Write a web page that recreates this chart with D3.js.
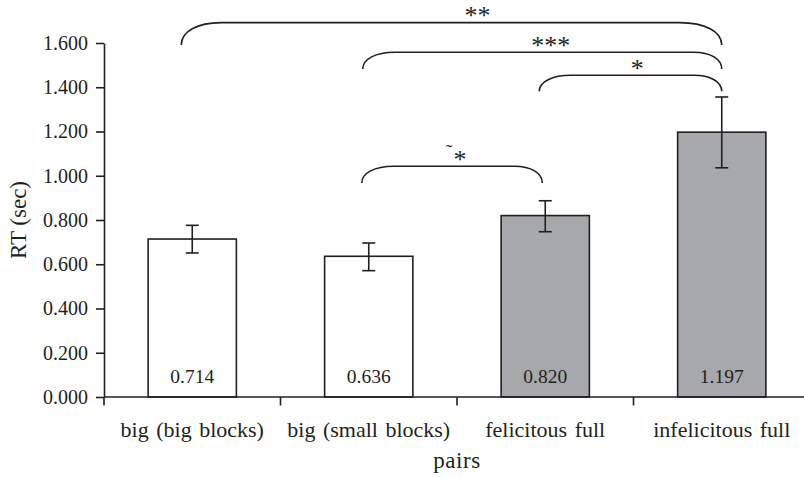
<!DOCTYPE html>
<html>
<head>
<meta charset="utf-8">
<script src="https://cdn.jsdelivr.net/npm/d3@7"></script>
<style>
  html, body { margin: 0; padding: 0; background: #fff; }
  svg { display: block; }
  svg text { font-family: 'Liberation Serif', serif; }
</style>
</head>
<body>
<svg id="chart" width="804" height="477"></svg>
<script>
// ---- data ----
const categories = ["big (big blocks)", "big (small blocks)", "felicitous full", "infelicitous full"];
const means = [0.714, 0.636, 0.820, 1.197];
const errUpper = [0.776, 0.696, 0.887, 1.356];
const errLower = [0.651, 0.571, 0.747, 1.036];
const barGroups = ["white", "white", "grey", "grey"];
const yTicks = [0, 0.2, 0.4, 0.6, 0.8, 1.0, 1.2, 1.4, 1.6];
// significance brackets: from/to category index, top level and end level (RT units)
const bracketFrom = [0, 1, 2, 1];
const bracketTo = [3, 3, 3, 2];
const bracketTop = [1.692, 1.558, 1.454, 1.043];
const bracketEnd = [1.591, 1.482, 1.382, 0.967];
const bracketLabels = ["**", "***", "*", "~*"];

// ---- layout ----
const svg = d3.select("#chart");
const mLeft = 104, mRight = 810, mTop = 43, mBottom = 397;
const ink = "#231f20";
const serif = "'Liberation Serif', serif";

const x = d3.scaleBand().domain(categories).range([mLeft, mRight]).paddingInner(0.5).paddingOuter(0.25);
const y = d3.scaleLinear().domain([0, 1.6]).range([mBottom, mTop]);
const fills = { white: "#ffffff", grey: "#a7a8ab" };
const cx = c => x(c) + x.bandwidth() / 2;

// bars
svg.append("g").selectAll("rect").data(categories).join("rect")
  .attr("x", d => x(d))
  .attr("y", (d, i) => y(means[i]))
  .attr("width", x.bandwidth())
  .attr("height", (d, i) => y(0) - y(means[i]))
  .attr("fill", (d, i) => fills[barGroups[i]])
  .attr("stroke", ink).attr("stroke-width", 1.6);

// value labels
svg.append("g").selectAll("text").data(categories).join("text")
  .attr("x", d => cx(d))
  .attr("y", 383)
  .attr("text-anchor", "middle")
  .style("font-family", serif).style("font-size", "19.5px")
  .attr("fill", ink)
  .text((d, i) => d3.format(".3f")(means[i]));

// error bars
const eb = svg.append("g").attr("stroke", ink).attr("stroke-width", 1.6);
categories.forEach((c, i) => {
  const px = cx(c);
  eb.append("line").attr("x1", px).attr("x2", px).attr("y1", y(errUpper[i])).attr("y2", y(errLower[i]));
  eb.append("line").attr("x1", px - 6.5).attr("x2", px + 6.5).attr("y1", y(errUpper[i])).attr("y2", y(errUpper[i]));
  eb.append("line").attr("x1", px - 6.5).attr("x2", px + 6.5).attr("y1", y(errLower[i])).attr("y2", y(errLower[i]));
});

// y axis
const yAxis = d3.axisLeft(y).tickValues(yTicks).tickFormat(d3.format(".3f")).tickSize(8).tickSizeOuter(0).tickPadding(8);
const gy = svg.append("g").attr("transform", `translate(${mLeft},0)`).call(yAxis);
gy.select(".domain").attr("stroke", ink).attr("stroke-width", 1.6);
gy.selectAll(".tick line").attr("stroke", ink).attr("stroke-width", 1.6);
gy.selectAll(".tick text").style("font-family", serif).style("font-size", "20px").attr("fill", ink);

// x axis line + boundary ticks
const gx = svg.append("g").attr("stroke", ink).attr("stroke-width", 1.6);
gx.append("line").attr("x1", mLeft).attr("x2", mRight).attr("y1", mBottom).attr("y2", mBottom);
d3.range(categories.length + 1).forEach(k => {
  const tx = mLeft + k * x.step();
  gx.append("line").attr("x1", tx).attr("x2", tx).attr("y1", mBottom).attr("y2", mBottom + 8.5);
});

// category labels
svg.append("g").selectAll("text").data(categories).join("text")
  .attr("x", d => cx(d))
  .attr("y", 437)
  .attr("text-anchor", "middle")
  .style("font-family", serif).style("font-size", "22px").style("word-spacing", "2px")
  .attr("fill", ink)
  .text(d => d);

// axis titles
svg.append("text").attr("x", 457).attr("y", 468).attr("text-anchor", "middle")
  .style("font-family", serif).style("font-size", "23px").style("letter-spacing", "0.6px")
  .attr("fill", ink).text("pairs");
svg.append("text").attr("transform", "translate(26,220) rotate(-90)").attr("text-anchor", "middle")
  .style("font-family", serif).style("font-size", "23px").attr("fill", ink).text("RT (sec)");

// brackets
const startShift = [-11, -6, -6, -7];
const endShift = [0, 0, 0, -3];
const labelShift = [26, 8.5, 6.7, 8];
const bg = svg.append("g");
bracketLabels.forEach((lab, i) => {
  const x1 = cx(categories[bracketFrom[i]]) + startShift[i];
  const x2 = cx(categories[bracketTo[i]]) + endShift[i];
  const yt = y(bracketTop[i]), ye = y(bracketEnd[i]);
  const rxL = i === 0 ? 40 : 32, rxR = i === 0 ? 42 : 28;
  const ry = ye - yt;
  const p = d3.path();
  p.moveTo(x1, ye);
  p.bezierCurveTo(x1, ye - ry * 0.6, x1 + rxL * 0.4, yt, x1 + rxL, yt);
  p.lineTo(x2 - rxR, yt);
  p.bezierCurveTo(x2 - rxR * 0.4, yt, x2, ye - ry * 0.6, x2, ye);
  bg.append("path").attr("d", p.toString()).attr("fill", "none").attr("stroke", ink).attr("stroke-width", 1.6);
  const lx = (x1 + x2) / 2 + labelShift[i];
  if (lab.startsWith("~")) {
    bg.append("text").attr("x", lx - 11).attr("y", yt - 7).attr("text-anchor", "middle")
      .style("font-family", serif).style("font-size", "20px").attr("fill", ink).text("˜");
    bg.append("text").attr("x", lx).attr("y", yt + 1.5).attr("text-anchor", "middle")
      .style("font-family", serif).style("font-size", "26px").attr("fill", ink).text(lab.slice(1));
  } else {
    bg.append("text").attr("x", lx).attr("y", yt + 1.5).attr("text-anchor", "middle")
      .style("font-family", serif).style("font-size", "26px").attr("fill", ink).text(lab);
  }
});
</script>
</body>
</html>
